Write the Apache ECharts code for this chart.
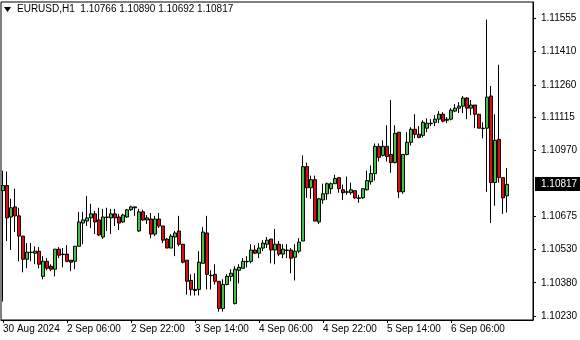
<!DOCTYPE html>
<html><head><meta charset="utf-8">
<script src="https://cdn.jsdelivr.net/npm/echarts@6/dist/echarts.min.js"></script>
<style>html,body{margin:0;padding:0;background:#fff}#c{width:580px;height:340px}</style>
</head><body><div id="c"></div>
<script>
const symbol = 'EURUSD,H1';
const tickIndex = [0,16,32,48,64,80,96,112];
const tickLabels = ['30 Aug 2024','2 Sep 06:00','2 Sep 22:00','3 Sep 14:00','4 Sep 06:00','4 Sep 22:00','5 Sep 14:00','6 Sep 06:00'];
const priceLabels = [1.10230,1.10380,1.10530,1.10675,1.10970,1.11115,1.11260,1.11410,1.11555];
const opens = [1.10789,1.10812,1.10672,1.10717,1.10677,1.10587,1.10484,1.10516,1.10511,1.10520,
1.10408,1.10475,1.10453,1.10440,1.10529,1.10507,1.10507,1.10480,1.10475,1.10542,
1.10645,1.10654,1.10668,1.10686,1.10659,1.10583,1.10672,1.10668,1.10686,1.10672,
1.10650,1.10672,1.10704,1.10717,1.10610,1.10695,1.10659,1.10663,1.10596,1.10663,
1.10632,1.10574,1.10534,1.10583,1.10610,1.10551,1.10480,1.10390,1.10350,1.10350,
1.10466,1.10601,1.10413,1.10417,1.10386,1.10265,1.10372,1.10408,1.10287,1.10435,
1.10444,1.10475,1.10475,1.10525,1.10511,1.10534,1.10551,1.10574,1.10525,1.10551,
1.10507,1.10525,1.10525,1.10493,1.10520,1.10565,1.10896,1.10802,1.10838,1.10650,
1.10748,1.10775,1.10798,1.10820,1.10847,1.10793,1.10784,1.10780,1.10789,1.10757,
1.10757,1.10793,1.10829,1.10865,1.10986,1.10946,1.10986,1.10950,1.10914,1.11049,
1.10784,1.10950,1.11004,1.11062,1.11040,1.11035,1.11067,1.11089,1.11093,1.11107,
1.11129,1.11107,1.11107,1.11143,1.11156,1.11165,1.11201,1.11156,1.11170,1.11129,
1.11067,1.11067,1.11210,1.10825,1.11017,1.10847,1.10766];
const closes = [1.10812,1.10668,1.10713,1.10677,1.10587,1.10484,1.10516,1.10514,1.10520,1.10462,
1.10475,1.10444,1.10440,1.10529,1.10502,1.10505,1.10475,1.10471,1.10542,1.10650,
1.10659,1.10668,1.10686,1.10650,1.10592,1.10672,1.10670,1.10686,1.10668,1.10645,
1.10681,1.10704,1.10717,1.10713,1.10695,1.10659,1.10668,1.10596,1.10663,1.10632,
1.10569,1.10534,1.10587,1.10601,1.10551,1.10471,1.10386,1.10350,1.10345,1.10471,
1.10605,1.10417,1.10411,1.10386,1.10265,1.10372,1.10408,1.10422,1.10440,1.10448,
1.10475,1.10473,1.10525,1.10511,1.10534,1.10556,1.10569,1.10525,1.10551,1.10507,
1.10529,1.10523,1.10489,1.10520,1.10560,1.10896,1.10802,1.10838,1.10654,1.10753,
1.10775,1.10820,1.10820,1.10843,1.10798,1.10780,1.10782,1.10793,1.10757,1.10755,
1.10798,1.10834,1.10865,1.10986,1.10937,1.10986,1.10941,1.10914,1.11044,1.10784,
1.10950,1.11004,1.11062,1.11040,1.11026,1.11093,1.11089,1.11087,1.11107,1.11129,
1.11098,1.11102,1.11147,1.11156,1.11165,1.11201,1.11156,1.11170,1.11129,1.11067,
1.11065,1.11205,1.10825,1.11013,1.10847,1.10757,1.10817];
const lows = [1.10296,1.10565,1.10525,1.10605,1.10475,1.10426,1.10444,1.10475,1.10462,1.10444,
1.10395,1.10435,1.10431,1.10408,1.10489,1.10448,1.10471,1.10431,1.10440,1.10542,
1.10551,1.10632,1.10623,1.10596,1.10587,1.10574,1.10610,1.10596,1.10632,1.10614,
1.10645,1.10668,1.10699,1.10677,1.10605,1.10654,1.10641,1.10578,1.10587,1.10623,
1.10556,1.10534,1.10534,1.10498,1.10542,1.10466,1.10327,1.10323,1.10323,1.10323,
1.10466,1.10350,1.10350,1.10372,1.10251,1.10251,1.10368,1.10386,1.10283,1.10377,
1.10444,1.10448,1.10466,1.10507,1.10489,1.10520,1.10534,1.10466,1.10462,1.10498,
1.10489,1.10489,1.10422,1.10390,1.10511,1.10565,1.10757,1.10753,1.10654,1.10641,
1.10731,1.10748,1.10775,1.10820,1.10780,1.10748,1.10771,1.10771,1.10753,1.10735,
1.10753,1.10789,1.10816,1.10834,1.10919,1.10941,1.10919,1.10869,1.10910,1.10757,
1.10775,1.10946,1.10990,1.11022,1.11022,1.11026,1.11049,1.11076,1.11076,1.11089,
1.11093,1.11089,1.11102,1.11138,1.11134,1.11134,1.11107,1.11125,1.11067,1.11067,
1.11022,1.10784,1.10645,1.10722,1.10825,1.10686,1.10692];
const highs = [1.10878,1.10874,1.10753,1.10798,1.10713,1.10587,1.10556,1.10556,1.10542,1.10538,
1.10498,1.10489,1.10462,1.10529,1.10538,1.10534,1.10547,1.10480,1.10542,1.10695,
1.10695,1.10766,1.10731,1.10699,1.10713,1.10708,1.10713,1.10708,1.10708,1.10686,
1.10686,1.10708,1.10722,1.10717,1.10708,1.10704,1.10681,1.10690,1.10677,1.10690,
1.10632,1.10578,1.10596,1.10610,1.10677,1.10551,1.10480,1.10417,1.10422,1.10520,
1.10628,1.10677,1.10435,1.10462,1.10386,1.10395,1.10417,1.10440,1.10453,1.10462,
1.10489,1.10498,1.10551,1.10547,1.10556,1.10569,1.10583,1.10574,1.10619,1.10565,
1.10551,1.10551,1.10534,1.10551,1.10578,1.10946,1.10914,1.10856,1.10856,1.10757,
1.10820,1.10825,1.10825,1.10860,1.10847,1.10816,1.10852,1.10825,1.10789,1.10771,
1.10798,1.10878,1.10901,1.10999,1.10999,1.11013,1.11080,1.11192,1.11080,1.11049,
1.10950,1.11049,1.11071,1.11129,1.11076,1.11102,1.11111,1.11107,1.11125,1.11143,
1.11138,1.11116,1.11156,1.11174,1.11183,1.11210,1.11205,1.11192,1.11170,1.11129,
1.11093,1.11550,1.11255,1.11129,1.11349,1.10847,1.10890];
const emptySlots = 6;

const n = opens.length;
const cats = [];
for (let i = 0; i < n + emptySlots; i++) cats.push(String(i));
const data = opens.map((o, i) => [o, closes[i], lows[i], highs[i]]);
const FONT = 'Liberation Sans';

const chart = echarts.init(document.getElementById('c'), null, {renderer: 'canvas'});
chart.setOption({
  animation: false,
  backgroundColor: '#fff',
  grid: {left: 1, right: 47, top: 2, bottom: 20, show: true, borderColor: '#000', borderWidth: 1, backgroundColor: 'transparent'},
  xAxis: {
    type: 'category', data: cats, boundaryGap: true,
    axisLine: {show: true, lineStyle: {color: '#000', width: 1}},
    axisTick: {show: true, alignWithLabel: true, length: 3, lineStyle: {color: '#000'},
      interval: (i) => tickIndex.includes(i)},
    axisLabel: {show: true, interval: (i) => tickIndex.includes(i), align: 'left', margin: 4,
      color: '#000', fontFamily: FONT, fontSize: 10,
      formatter: (v, i) => { const k = tickIndex.indexOf(i); return k >= 0 ? tickLabels[k] : ''; }},
    splitLine: {show: false}
  },
  yAxis: {
    type: 'value', position: 'right', min: 1.10214, max: 1.11628,
    axisLine: {show: true, lineStyle: {color: '#000'}},
    axisTick: {show: true, length: 3, customValues: priceLabels, lineStyle: {color: '#000'}},
    axisLabel: {show: false},
    splitLine: {show: false}
  },
  series: [{
    type: 'candlestick', data: data, barWidth: 3,
    itemStyle: {color: '#32cd32', color0: '#ff0000', borderColor: '#000', borderColor0: '#000', borderColorDoji: '#000', borderWidth: 1}
  }]
});

const last = n - 1;
const g = [
  {type: 'polygon', shape: {points: [[4, 7], [11, 7], [7.5, 12]]}, style: {fill: '#000'}},
  {type: 'text', left: 17, top: 4, style: {
    text: symbol + '  ' + opens[last].toFixed(5) + ' ' + highs[last].toFixed(5) + ' ' + lows[last].toFixed(5) + ' ' + closes[last].toFixed(5),
    fill: '#000', font: '10px "' + FONT + '"'}}
];
priceLabels.forEach((v) => {
  const y = chart.convertToPixel({yAxisIndex: 0}, v);
  g.push({type: 'text', x: 541, y: Math.round(y), style: {text: v.toFixed(5), fill: '#000', font: '10px "' + FONT + '"', verticalAlign: 'middle'}});
});
const py = chart.convertToPixel({yAxisIndex: 0}, closes[last]);
g.push({type: 'rect', shape: {x: 535, y: Math.round(py) - 7, width: 45, height: 14}, style: {fill: '#000'}});
g.push({type: 'text', x: 541, y: Math.round(py), style: {text: closes[last].toFixed(5), fill: '#fff', font: '10px "' + FONT + '"', verticalAlign: 'middle'}});
chart.setOption({graphic: g});
</script></body></html>
